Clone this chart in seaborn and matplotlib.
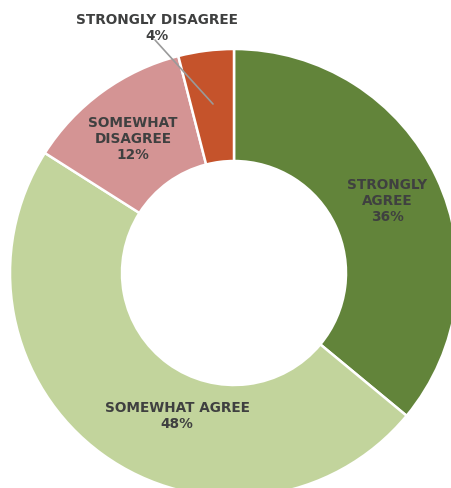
import matplotlib
matplotlib.use("Agg")
import matplotlib.pyplot as plt
import seaborn as sns

sns.set_theme(style="white")
plt.rcParams['font.family'] = ['DejaVu Sans']

categories = ["STRONGLY\nAGREE", "SOMEWHAT AGREE", "SOMEWHAT\nDISAGREE", "STRONGLY DISAGREE"]
values = [36, 48, 12, 4]
colors = sns.color_palette(["#62843A", "#C2D49C", "#D49494", "#C5532B"])

W, H = 451, 488
fig = plt.figure(figsize=(W / 100, H / 100), dpi=100)
ax = fig.add_axes([0, 0, 1, 1])

cx, cy, r = 234, H - 273, 224
ax.pie(values, colors=colors, startangle=90, counterclock=False,
       radius=r, center=(cx, cy),
       wedgeprops=dict(width=r / 2, edgecolor="white", linewidth=1.8))
ax.set_xlim(0, W)
ax.set_ylim(0, H)
ax.set_aspect("equal")
ax.axis("off")

label_pos = [(387, 201), (177, 416), (133, 139), (157, 28)]
txt_kw = dict(ha="center", va="center", fontsize=9.8, fontweight="bold",
              color="#3F4040", linespacing=1.2)
for cat, v, (x, y) in zip(categories, values, label_pos):
    ax.text(x, H - y, f"{cat}\n{v}%", **txt_kw)

# leader line for the thin slice
ax.plot([155, 213], [H - 40, H - 104], color="#9A9A9A", linewidth=1.2)

fig.savefig("out.png", dpi=100, facecolor="white")
